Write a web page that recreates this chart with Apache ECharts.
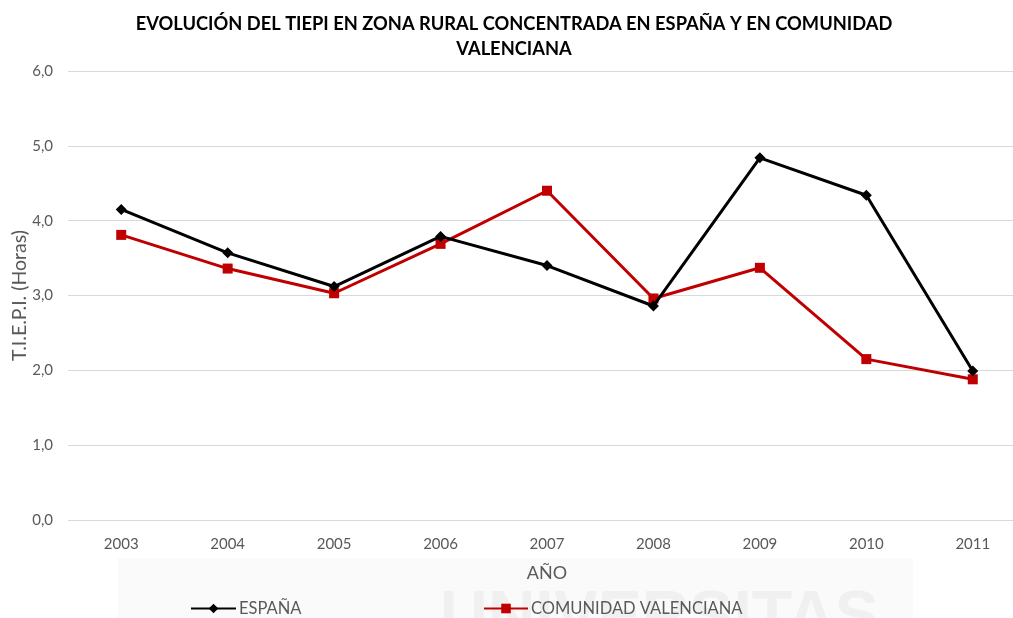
<!DOCTYPE html>
<html>
<head>
<meta charset="utf-8">
<script src="https://cdn.jsdelivr.net/npm/echarts@6/dist/echarts.min.js"></script>
<style>
  html, body { margin: 0; padding: 0; background: #fff; }
  #chart { width: 1013px; height: 618px; }
</style>
</head>
<body>
<div id="chart"></div>
<script>
// Años y valores de TIEPI (horas) en zona rural concentrada
const years = ['2003', '2004', '2005', '2006', '2007', '2008', '2009', '2010', '2011'];
const espana = [4.15, 3.57, 3.12, 3.79, 3.40, 2.86, 4.84, 4.34, 1.99];
const valencia = [3.81, 3.36, 3.03, 3.69, 4.40, 2.96, 3.37, 2.15, 1.88];
const yTicks = [0, 1, 2, 3, 4, 5, 6];

const FONT = 'Lato, "Liberation Sans", sans-serif';
const GREY = '#595959';
const chart = echarts.init(document.getElementById('chart'));

chart.setOption({
  backgroundColor: '#ffffff',
  animation: false,
  graphic: [
    // faint background stamp behind the lower band
    {
      type: 'rect', left: 118, top: 558, z: -10, silent: true,
      shape: { width: 795, height: 60 },
      style: { fill: '#fafafa' }
    },
    {
      type: 'text', left: 440, top: 586, z: -9, silent: true,
      style: {
        text: 'UNIVERSITAS', fill: '#f0f0f0',
        font: 'bold 66px "Liberation Sans", sans-serif'
      }
    }
  ],
  title: {
    text: 'EVOLUCIÓN DEL TIEPI EN ZONA RURAL CONCENTRADA EN ESPAÑA Y EN COMUNIDAD\nVALENCIANA',
    left: 509,
    top: 7,
    textAlign: 'center',
    textStyle: {
      fontFamily: FONT,
      fontSize: 18.3,
      fontWeight: 'bold',
      color: '#000000',
      lineHeight: 25
    }
  },
  legend: [
    {
      top: 600, left: 190, padding: 0, itemWidth: 45, itemHeight: 12, itemGap: 0,
      textStyle: { fontFamily: FONT, fontSize: 16.5, color: GREY, padding: [0, 0, 0, -2] },
      data: ['ESPAÑA']
    },
    {
      top: 600, left: 483, padding: 0, itemWidth: 44, itemHeight: 12, itemGap: 0,
      textStyle: { fontFamily: FONT, fontSize: 16.5, color: GREY, padding: [0, 0, 0, -2] },
      data: ['COMUNIDAD VALENCIANA']
    }
  ],
  grid: { left: 68, width: 958, top: 71, bottom: 98, outerBoundsMode: 'none', containLabel: false },
  xAxis: {
    type: 'category',
    data: years,
    boundaryGap: true,
    name: 'AÑO',
    nameLocation: 'middle',
    nameGap: 44,
    nameMoveOverlap: false,
    nameTextStyle: { fontFamily: FONT, fontSize: 18, color: GREY },
    axisLine: { show: false },
    axisTick: { show: false },
    axisLabel: { fontFamily: FONT, fontSize: 15, color: GREY, margin: 17 }
  },
  yAxis: {
    type: 'value',
    min: yTicks[0],
    max: yTicks[yTicks.length - 1],
    interval: 1,
    name: 'T.I.E.P.I. (Horas)',
    nameLocation: 'middle',
    nameGap: 38,
    nameMoveOverlap: false,
    nameTextStyle: { fontFamily: FONT, fontSize: 19.5, color: GREY },
    axisLine: { show: false },
    axisTick: { show: false },
    axisLabel: {
      fontFamily: FONT, fontSize: 15, color: GREY, margin: 15,
      formatter: v => v.toFixed(1).replace('.', ',')
    },
    splitLine: { lineStyle: { color: '#d9d9d9', width: 1 } }
  },
  series: [
    {
      name: 'ESPAÑA',
      type: 'line',
      data: espana,
      symbol: 'diamond',
      symbolSize: 11,
      color: '#000000',
      lineStyle: { width: 3, color: '#000000' },
      itemStyle: { color: '#000000' },
      z: 3
    },
    {
      name: 'COMUNIDAD VALENCIANA',
      type: 'line',
      data: valencia,
      symbol: 'rect',
      symbolSize: 10,
      color: '#c00000',
      lineStyle: { width: 3, color: '#c00000' },
      itemStyle: { color: '#c00000' },
      z: 2
    }
  ]
});
</script>
</body>
</html>
